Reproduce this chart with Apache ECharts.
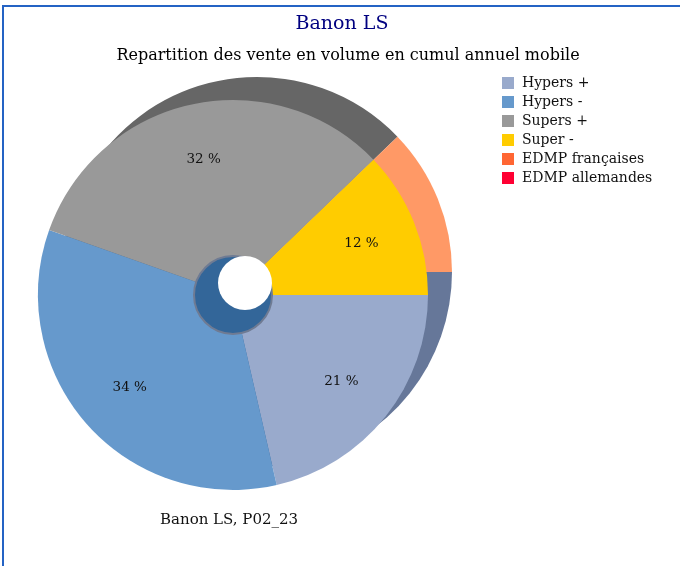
<!DOCTYPE html>
<html>
<head>
<meta charset="utf-8">
<script src="https://cdn.jsdelivr.net/npm/echarts@6/dist/echarts.min.js"></script>
<style>html,body{margin:0;padding:0;background:#fff}#c{width:680px;height:566px}</style>
</head>
<body>
<div id="c"></div>
<script>
const categories = ['Hypers +', 'Hypers -', 'Supers +', 'Super -', 'EDMP françaises', 'EDMP allemandes'];
const values = [21.4, 34.0, 32.4, 12.2, 0, 0];
const frontColors = ['#99AACC', '#6699CC', '#999999', '#FFCC00', '#FF6633', '#FF0033'];
const backColors = ['#667799', '#336699', '#666666', '#FF9966', '#CC5522', '#CC0022'];

const serif = '"DejaVu Serif", serif';
const front = categories.map((n, i) => ({ name: n, value: values[i], itemStyle: { color: frontColors[i] } }));
const back = categories.map((n, i) => ({ name: n, value: values[i], itemStyle: { color: backColors[i] } }));
const labelsOnly = categories.map((n, i) => ({ name: n, value: values[i], itemStyle: { color: 'rgba(0,0,0,0)' } }));

const common = { type: 'pie', startAngle: 0, clockwise: true, silent: true, emphasis: { disabled: true }, labelLine: { show: false } };

const chart = echarts.init(document.getElementById('c'), null, { renderer: 'canvas' });
chart.setOption({
  animation: false,
  backgroundColor: '#fff',
  title: [
    { text: 'Banon LS', left: 337, textAlign: 'center', top: 10, textStyle: { fontFamily: serif, fontSize: 19, fontWeight: 'normal', color: '#000080' } },
    { text: 'Repartition des vente en volume en cumul annuel mobile', left: 343, textAlign: 'center', top: 43, textStyle: { fontFamily: serif, fontSize: 16, fontWeight: 'normal', color: '#000' } }
  ],
  legend: {
    orient: 'vertical', left: 497, top: 71, itemWidth: 12, itemHeight: 12, itemGap: 5,
    icon: 'rect', data: categories,
    textStyle: { fontFamily: serif, fontSize: 14, color: '#111', padding: [0, 0, 0, 3] }
  },
  graphic: [
    { type: 'rect', shape: { x: 3, y: 6, width: 720, height: 620 }, style: { fill: 'none', stroke: '#2463C4', lineWidth: 2 }, z: 100 },
    { type: 'text', left: 160, top: 513, style: { text: 'Banon LS, P02_23', font: '15px "DejaVu Serif", serif', fill: '#111' } }
  ],
  series: [
    Object.assign({}, common, { name: 'front', z: 3, center: [233, 295], radius: [0, 195], data: front, label: { show: false } }),
    Object.assign({}, common, { name: 'labels', z: 4, center: [233, 295], radius: [76, 195], data: labelsOnly,
      label: { show: true, position: 'inside', fontFamily: serif, fontSize: 13.5, color: '#111',
        formatter: p => p.value > 0 ? Math.round(p.percent) + ' %' : '' } }),
    Object.assign({}, common, { name: 'back', z: 2, center: [257, 272], radius: [0, 195], data: back, label: { show: false } }),
    Object.assign({}, common, { name: 'hub', z: 5, center: [233, 295], radius: [0, 39],
      data: [{ name: 'hub', value: 1, itemStyle: { color: '#336699', borderColor: '#6F7B93', borderWidth: 2 } }], label: { show: false } }),
    Object.assign({}, common, { name: 'hole', z: 6, center: [245, 283], radius: [0, 27],
      data: [{ name: 'hole', value: 1, itemStyle: { color: '#ffffff' } }], label: { show: false } })
  ]
});
</script>
</body>
</html>
